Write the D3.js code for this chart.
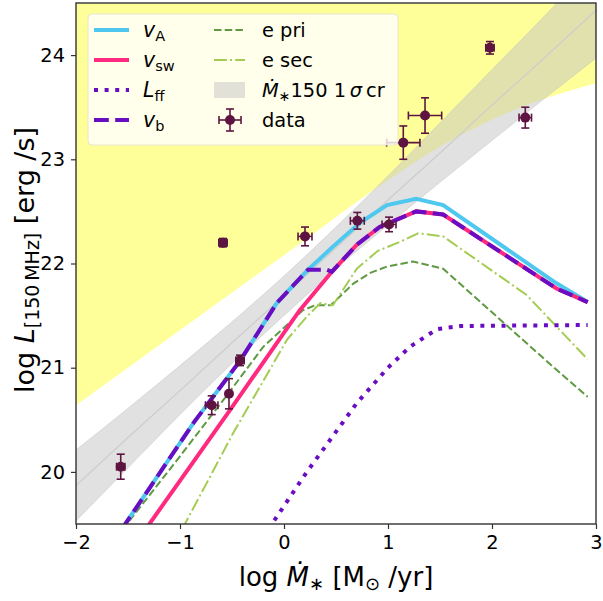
<!DOCTYPE html>
<html>
<head>
<meta charset="utf-8">
<script src="https://cdn.jsdelivr.net/npm/d3@7"></script>
<style>
    body { margin: 0; background: #fff; }
    text { font-family: "DejaVu Sans", sans-serif; fill: #000; }
</style>
</head>
<body>
<div id="chart"></div>
<script>
// data
// ---------------------------------------------------------

const xTicks = [-2, -1, 0, 1, 2, 3];
const yTicks = [20, 21, 22, 23, 24];

// model curves, [log Mdot, log L]
const vA = [[-1.56, 19.45], [-0.87, 20.47], [-0.42, 21.07], [-0.07, 21.62], [0.23, 21.94],
    [0.47, 22.16], [0.73, 22.39], [0.99, 22.56], [1.27, 22.62], [1.53, 22.56], [2.62, 21.81], [2.92, 21.63]];
const vSw = [[-1.33, 19.45], [-0.55, 20.55], [0.15, 21.55], [0.46, 21.92], [0.70, 22.18], [0.92, 22.35],
    [1.27, 22.50], [1.53, 22.47], [2.62, 21.76], [2.92, 21.63]];
const lFf = [[-0.15, 19.45], [0.22, 20.0], [0.7, 20.66], [1.0, 21.0], [1.21, 21.2], [1.47, 21.37],
    [1.7, 21.40], [2.92, 21.41]];
const vB = [[-1.56, 19.45], [-0.87, 20.47], [-0.42, 21.07], [-0.07, 21.62], [0.23, 21.94], [0.41, 21.94],
    [0.46, 21.92], [0.70, 22.18], [0.92, 22.35], [1.27, 22.50], [1.53, 22.47], [2.62, 21.76], [2.92, 21.63]];
const ePri = [[-1.55, 19.45], [-1.0, 20.15], [-0.53, 20.76], [-0.2, 21.2], [0.18, 21.55], [0.3, 21.6],
    [0.45, 21.6], [0.67, 21.81], [0.83, 21.91], [0.99, 21.97], [1.24, 22.02], [1.53, 21.95], [2.62, 20.98], [2.92, 20.72]];
const eSec = [[-0.98, 19.45], [-0.745, 19.89], [-0.49, 20.37], [0.03, 21.27], [0.22, 21.49], [0.35, 21.62],
    [0.47, 21.6], [0.7, 21.95], [0.9, 22.12], [1.12, 22.21], [1.29, 22.29], [1.53, 22.26], [2.33, 21.70], [2.92, 21.08]];

// 1 sigma band of the Mdot-L150 relation (narrowest near the middle)
const bandX = [-2, -1.5, -1, -0.5, 0, 0.5, 1, 1.5, 2, 2.5, 3];
const bandLo = [19.53, 20.04, 20.55, 21.04, 21.50, 21.95, 22.37, 22.78, 23.18, 23.58, 23.97];
const bandMid = [19.87, 20.33, 20.78, 21.24, 21.69, 22.15, 22.61, 23.06, 23.52, 23.97, 24.43];
const bandHi = [20.21, 20.61, 21.02, 21.44, 21.88, 22.35, 22.84, 23.35, 23.86, 24.37, 24.89];

// lower edge of the yellow region
const yellowX = [-2, 0, 1, 1.5, 2.13, 3];
const yellowLo = [20.64, 22.08, 22.8, 23.12, 23.44, 23.73];

// observations
const dataX = [-1.57, -0.695, -0.529, -0.423, -0.587, 0.202, 0.705, 1.01, 1.147, 1.356, 1.98, 2.32];
const dataY = [20.05, 20.64, 20.75, 21.07, 22.20, 22.26, 22.41, 22.375, 23.16, 23.42, 24.07, 23.40];
const dataXErr = [0.04, 0.06, 0.02, 0.04, 0.04, 0.067, 0.067, 0.067, 0.16, 0.16, 0.04, 0.06];
const dataYErr = [0.12, 0.09, 0.145, 0.05, 0.04, 0.09, 0.08, 0.07, 0.16, 0.17, 0.06, 0.1];

// layout
// ---------------------------------------------------------

let width = 603,
    height = 601,
    leftEdge = 76,
    rightEdge = 596,
    topEdge = 3,
    bottomEdge = 524;

let dataColor = "#5e1441";

let svg = d3.select("#chart").append("svg")
    .attr("width", width)
    .attr("height", height);

let xScale = d3.scaleLinear().domain([-2, 3]).range([leftEdge, rightEdge]);
let yScale = d3.scaleLinear().domain([19.5, 24.5]).range([bottomEdge, topEdge]);

svg.append("clipPath")
    .attr("id", "plotClip")
  .append("rect")
    .attr("x", leftEdge)
    .attr("y", topEdge)
    .attr("width", rightEdge - leftEdge)
    .attr("height", bottomEdge - topEdge);

let plot = svg.append("g")
    .attr("clip-path", "url(#plotClip)");

let line = d3.line()
    .x(d => xScale(d[0]))
    .y(d => yScale(d[1]));

// shaded regions
// ---------------------------------------------------------

let yellowPts = yellowX.map((x, i) => [x, yellowLo[i]]);
plot.append("path")
    .datum(yellowPts)
    .attr("d", d3.area()
        .curve(d3.curveMonotoneX)
        .x(d => xScale(d[0]))
        .y0(d => yScale(d[1]))
        .y1(yScale(25)))
    .attr("fill", "#ffff99");

let bandPts = bandX.map((x, i) => ({x: x, lo: bandLo[i], hi: bandHi[i], mid: bandMid[i]}));
plot.append("path")
    .datum(bandPts)
    .attr("d", d3.area()
        .curve(d3.curveMonotoneX)
        .x(d => xScale(d.x))
        .y0(d => yScale(d.lo))
        .y1(d => yScale(d.hi)))
    .attr("fill", "#c4c4c4")
    .attr("fill-opacity", 0.5)
    .attr("stroke", "#c4c4c4")
    .attr("stroke-opacity", 0.5)
    .attr("stroke-width", 1);

plot.append("path")
    .datum(bandPts.map(d => [d.x, d.mid]))
    .attr("d", line)
    .attr("fill", "none")
    .attr("stroke", "#cccccc")
    .attr("stroke-width", 1.2);

// model curves
// ---------------------------------------------------------

let curves = [
    {pts: ePri, color: "#5f9a43", width: 2, dash: "7.5,3.2"},
    {pts: eSec, color: "#a5cc52", width: 2, dash: "12.8,3.2,2,3.2"},
    {pts: lFf, color: "#6a0dc2", width: 4, dash: "4,6.6"},
    {pts: vA, color: "#4fc8ef", width: 4, dash: null},
    {pts: vSw, color: "#ff2a7f", width: 4, dash: null},
    {pts: vB, color: "#6a0dc2", width: 4, dash: "14.8,6.4"}
];

plot.selectAll(".curve")
    .data(curves)
    .enter()
    .append("path")
        .attr("class", "curve")
        .attr("d", d => line(d.pts))
        .attr("fill", "none")
        .attr("stroke", d => d.color)
        .attr("stroke-width", d => d.width)
        .attr("stroke-dasharray", d => d.dash);

// data points with error bars
// ---------------------------------------------------------

let obs = dataX.map((x, i) => ({x: x, y: dataY[i], xe: dataXErr[i], ye: dataYErr[i]}));
let cap = 4;

let pts = svg.append("g").selectAll(".obs")
    .data(obs)
    .enter()
    .append("g")
        .attr("class", "obs")
        .attr("stroke", dataColor)
        .attr("stroke-width", 1.6)
        .attr("fill", dataColor);

pts.append("line")
    .attr("x1", d => xScale(d.x - d.xe)).attr("x2", d => xScale(d.x + d.xe))
    .attr("y1", d => yScale(d.y)).attr("y2", d => yScale(d.y));
pts.append("line")
    .attr("x1", d => xScale(d.x)).attr("x2", d => xScale(d.x))
    .attr("y1", d => yScale(d.y - d.ye)).attr("y2", d => yScale(d.y + d.ye));
[-1, 1].forEach(s => {
    pts.append("line")
        .attr("x1", d => xScale(d.x + s * d.xe)).attr("x2", d => xScale(d.x + s * d.xe))
        .attr("y1", d => yScale(d.y) - cap).attr("y2", d => yScale(d.y) + cap);
    pts.append("line")
        .attr("x1", d => xScale(d.x) - cap).attr("x2", d => xScale(d.x) + cap)
        .attr("y1", d => yScale(d.y + s * d.ye)).attr("y2", d => yScale(d.y + s * d.ye));
});
pts.append("circle")
    .attr("cx", d => xScale(d.x))
    .attr("cy", d => yScale(d.y))
    .attr("r", 5)
    .attr("stroke", "none");

// axes
// ---------------------------------------------------------

let fmt = d => d < 0 ? "\u2212" + Math.abs(d) : String(d);

let xAxis = svg.append("g")
    .attr("transform", `translate(0, ${bottomEdge})`)
    .call(d3.axisBottom(xScale).tickValues(xTicks).tickFormat(fmt).tickSize(5).tickPadding(6).tickSizeOuter(0));

let yAxis = svg.append("g")
    .attr("transform", `translate(${leftEdge}, 0)`)
    .call(d3.axisLeft(yScale).tickValues(yTicks).tickFormat(fmt).tickSize(5).tickPadding(6).tickSizeOuter(0));

[xAxis, yAxis].forEach(a => {
    a.select(".domain").remove();
    a.selectAll("line").attr("stroke", "#333").attr("stroke-width", 1.2);
    a.selectAll("text")
        .attr("font-family", "DejaVu Sans")
        .attr("font-size", 19.4)
        .attr("fill", "#000");
});

svg.append("rect")
    .attr("x", leftEdge)
    .attr("y", topEdge)
    .attr("width", rightEdge - leftEdge)
    .attr("height", bottomEdge - topEdge)
    .attr("fill", "none")
    .attr("stroke", "#333")
    .attr("stroke-width", 1.4);

// axis labels
// ---------------------------------------------------------

let xLabel = svg.append("text")
    .attr("x", (leftEdge + rightEdge) / 2)
    .attr("y", 586)
    .attr("text-anchor", "middle")
    .attr("font-size", 26);
xLabel.append("tspan").text("log ");
xLabel.append("tspan").attr("font-style", "italic").text("\u1E40");
xLabel.append("tspan").attr("font-size", 18).attr("dy", 4).text("\u2217");
xLabel.append("tspan").attr("dy", -4).text(" [M");
xLabel.append("tspan").attr("font-size", 18).attr("dy", 4).text("\u2299");
xLabel.append("tspan").attr("dy", -4).text(" /yr]");

let yLabel = svg.append("text")
    .attr("transform", `translate(34, 260) rotate(-90)`)
    .attr("text-anchor", "middle")
    .attr("font-size", 27);
yLabel.append("tspan").text("log ");
yLabel.append("tspan").attr("font-style", "italic").text("L");
yLabel.append("tspan").attr("font-size", 19).attr("dy", 5).text("[150\u2009MHz]");
yLabel.append("tspan").attr("dy", -5).text(" [erg /s]");

// legend
// ---------------------------------------------------------

let legend = svg.append("g");

legend.append("rect")
    .attr("x", 88)
    .attr("y", 14)
    .attr("width", 310)
    .attr("height", 131)
    .attr("rx", 4)
    .attr("fill", "#ffffff")
    .attr("fill-opacity", 0.8)
    .attr("stroke", "#e6e6d0")
    .attr("stroke-width", 1);

let rowY = [30, 60, 90, 120];

let leftItems = [
    {curve: curves[3], main: "v", sub: "A"},
    {curve: curves[4], main: "v", sub: "sw"},
    {curve: curves[2], main: "L", sub: "ff"},
    {curve: curves[5], main: "v", sub: "b"}
];

leftItems.forEach((item, i) => {
    legend.append("line")
        .attr("x1", 94).attr("x2", 129)
        .attr("y1", rowY[i]).attr("y2", rowY[i])
        .attr("stroke", item.curve.color)
        .attr("stroke-width", item.curve.width)
        .attr("stroke-dasharray", item.curve.dash);
    let t = legend.append("text")
        .attr("x", 143)
        .attr("y", rowY[i] + 7)
        .attr("font-size", 19.4);
    t.append("tspan").attr("font-style", "italic").attr("font-size", 20.5).text(item.main);
    t.append("tspan").attr("font-size", 14.5).attr("dy", 4).text(item.sub);
});

[curves[0], curves[1]].forEach((c, i) => {
    legend.append("line")
        .attr("x1", 214).attr("x2", 245)
        .attr("y1", rowY[i]).attr("y2", rowY[i])
        .attr("stroke", c.color)
        .attr("stroke-width", c.width)
        .attr("stroke-dasharray", c.dash);
});

legend.append("rect")
    .attr("x", 214)
    .attr("y", rowY[2] - 8)
    .attr("width", 31)
    .attr("height", 16)
    .attr("fill", "#c4c4c4")
    .attr("fill-opacity", 0.5);

let dataKey = legend.append("g")
    .attr("stroke", dataColor)
    .attr("stroke-width", 1.6)
    .attr("fill", dataColor);
dataKey.append("line").attr("x1", 219).attr("x2", 241).attr("y1", rowY[3]).attr("y2", rowY[3]);
dataKey.append("line").attr("x1", 230).attr("x2", 230).attr("y1", rowY[3] - 11).attr("y2", rowY[3] + 11);
dataKey.append("line").attr("x1", 219).attr("x2", 219).attr("y1", rowY[3] - 4).attr("y2", rowY[3] + 4);
dataKey.append("line").attr("x1", 241).attr("x2", 241).attr("y1", rowY[3] - 4).attr("y2", rowY[3] + 4);
dataKey.append("line").attr("x1", 226).attr("x2", 234).attr("y1", rowY[3] - 11).attr("y2", rowY[3] - 11);
dataKey.append("line").attr("x1", 226).attr("x2", 234).attr("y1", rowY[3] + 11).attr("y2", rowY[3] + 11);
dataKey.append("circle").attr("cx", 230).attr("cy", rowY[3]).attr("r", 5).attr("stroke", "none");

let rightLabels = ["e pri", "e sec", null, "data"];
rightLabels.forEach((s, i) => {
    if (s === null) return;
    legend.append("text")
        .attr("x", 262)
        .attr("y", rowY[i] + 7)
        .attr("font-size", 19.4)
        .text(s);
});

let bandLabel = legend.append("text")
    .attr("x", 262)
    .attr("y", rowY[2] + 7)
    .attr("font-size", 19.4);
bandLabel.append("tspan").attr("font-style", "italic").text("\u1E40");
bandLabel.append("tspan").attr("font-size", 14).attr("dy", 4).text("\u2217");
bandLabel.append("tspan").attr("dy", -4).text("150 1\u2009");
bandLabel.append("tspan").attr("font-style", "italic").text("\u03C3");
bandLabel.append("tspan").text("\u2009cr");
</script>
</body>
</html>
